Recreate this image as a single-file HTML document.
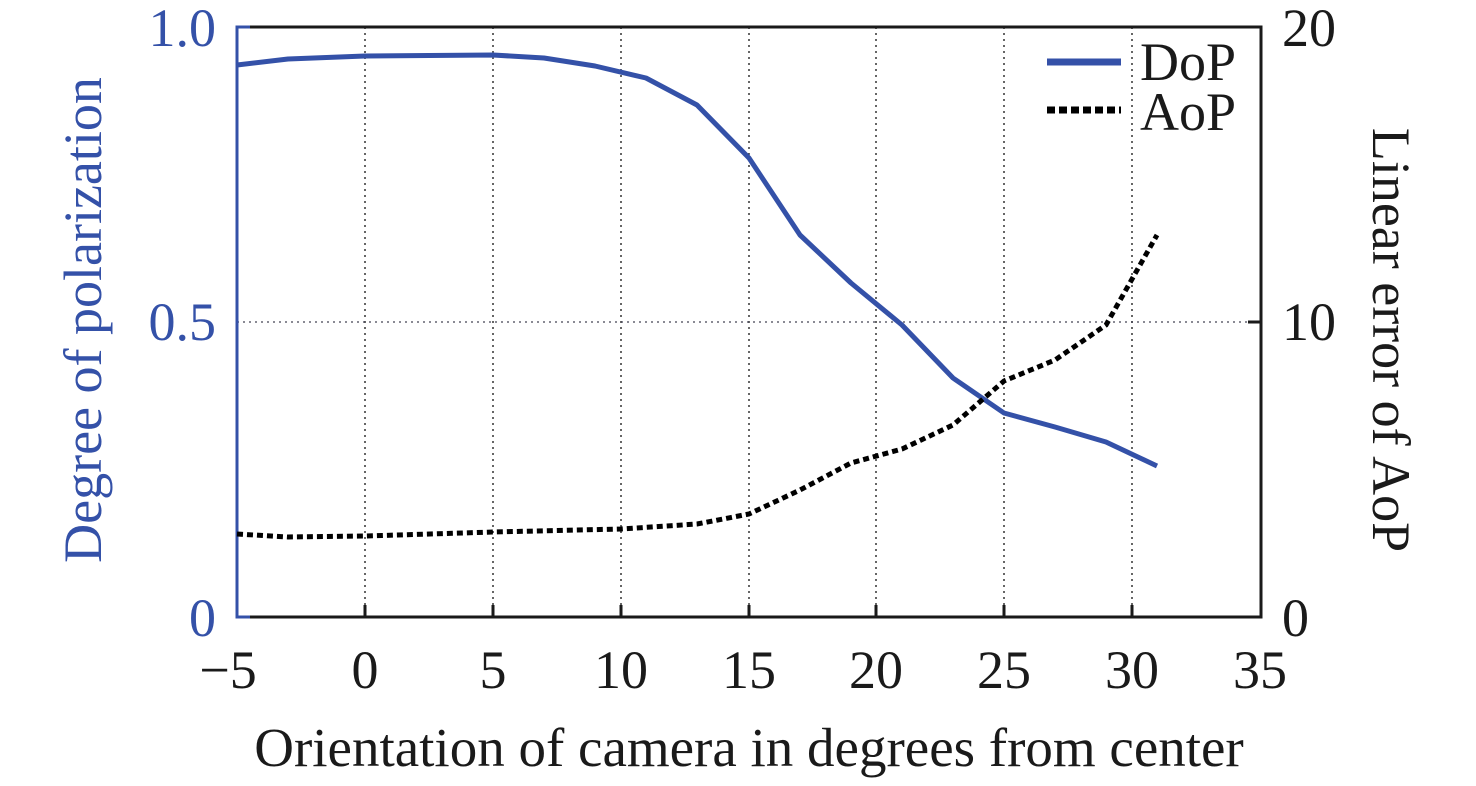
<!DOCTYPE html>
<html><head><meta charset="utf-8"><style>
html,body{margin:0;padding:0;background:#fff;}
svg{display:block;font-family:"Liberation Serif","Times New Roman",serif;}
</style></head><body>
<svg width="1476" height="786" viewBox="0 0 1476 786" xmlns="http://www.w3.org/2000/svg">
<g stroke="#000" stroke-width="1.2" stroke-dasharray="2,4">
<line x1="365" y1="27" x2="365" y2="617"/>
<line x1="493" y1="27" x2="493" y2="617"/>
<line x1="621" y1="27" x2="621" y2="617"/>
<line x1="749" y1="27" x2="749" y2="617"/>
<line x1="876" y1="27" x2="876" y2="617"/>
<line x1="1004" y1="27" x2="1004" y2="617"/>
<line x1="1132" y1="27" x2="1132" y2="617"/>
<line x1="237" y1="322" x2="1261" y2="322" stroke="#445"/>
</g>
<g stroke="#1a1a1a" stroke-width="3">
<line x1="365" y1="617" x2="365" y2="605"/>
<line x1="493" y1="617" x2="493" y2="605"/>
<line x1="621" y1="617" x2="621" y2="605"/>
<line x1="749" y1="617" x2="749" y2="605"/>
<line x1="876" y1="617" x2="876" y2="605"/>
<line x1="1004" y1="617" x2="1004" y2="605"/>
<line x1="1132" y1="617" x2="1132" y2="605"/>
<line x1="1261" y1="322" x2="1248" y2="322"/>
<polyline fill="none" points="250,27 1261,27 1261,617 250,617"/>
</g>
<polyline fill="none" stroke="#3451a8" stroke-width="3" points="250,27 237,27 237,617 250,617"/>
<polyline fill="none" stroke="#3451a8" stroke-width="5" stroke-linejoin="round" points="237,65 288,59 365,56 493,55 544,58 595,66 646,78 697,105 749,158 800,235 851,283 902,325 953,378 1004,413 1055,427 1106,442 1157,466"/>
<polyline fill="none" stroke="#000" stroke-width="5" stroke-dasharray="6,4" points="237,534 288,537 365,536 493,532 621,529 697,524 749,514 800,490 851,463 902,449 953,425 1004,381 1055,360 1106,325 1157,235"/>
<line x1="1047" y1="62" x2="1121" y2="62" stroke="#3451a8" stroke-width="7"/>
<line x1="1047" y1="110" x2="1121" y2="110" stroke="#000" stroke-width="7" stroke-dasharray="8,4"/>
<g font-size="54" fill="#1a1a1a">
<text x="1140" y="80">DoP</text>
<text x="1140" y="130">AoP</text>
</g>
<g font-size="54" fill="#3451a8" text-anchor="end">
<text x="216" y="46">1.0</text>
<text x="216" y="340">0.5</text>
<text x="216" y="636">0</text>
</g>
<g font-size="54" fill="#1a1a1a">
<text x="1282" y="46">20</text>
<text x="1282" y="340">10</text>
<text x="1282" y="636">0</text>
</g>
<g font-size="54" fill="#1a1a1a" text-anchor="middle">
<text x="228" y="688">−5</text>
<text x="365" y="688">0</text>
<text x="493" y="688">5</text>
<text x="621" y="688">10</text>
<text x="749" y="688">15</text>
<text x="876" y="688">20</text>
<text x="1004" y="688">25</text>
<text x="1132" y="688">30</text>
<text x="1260" y="688">35</text>
<text x="749" y="766" font-size="55">Orientation of camera in degrees from center</text>
</g>
<text transform="translate(101,320) rotate(-90)" font-size="54" fill="#3451a8" text-anchor="middle">Degree of polarization</text>
<text transform="translate(1373,340) rotate(90)" font-size="54" fill="#1a1a1a" text-anchor="middle">Linear error of AoP</text>
</svg>
</body></html>
